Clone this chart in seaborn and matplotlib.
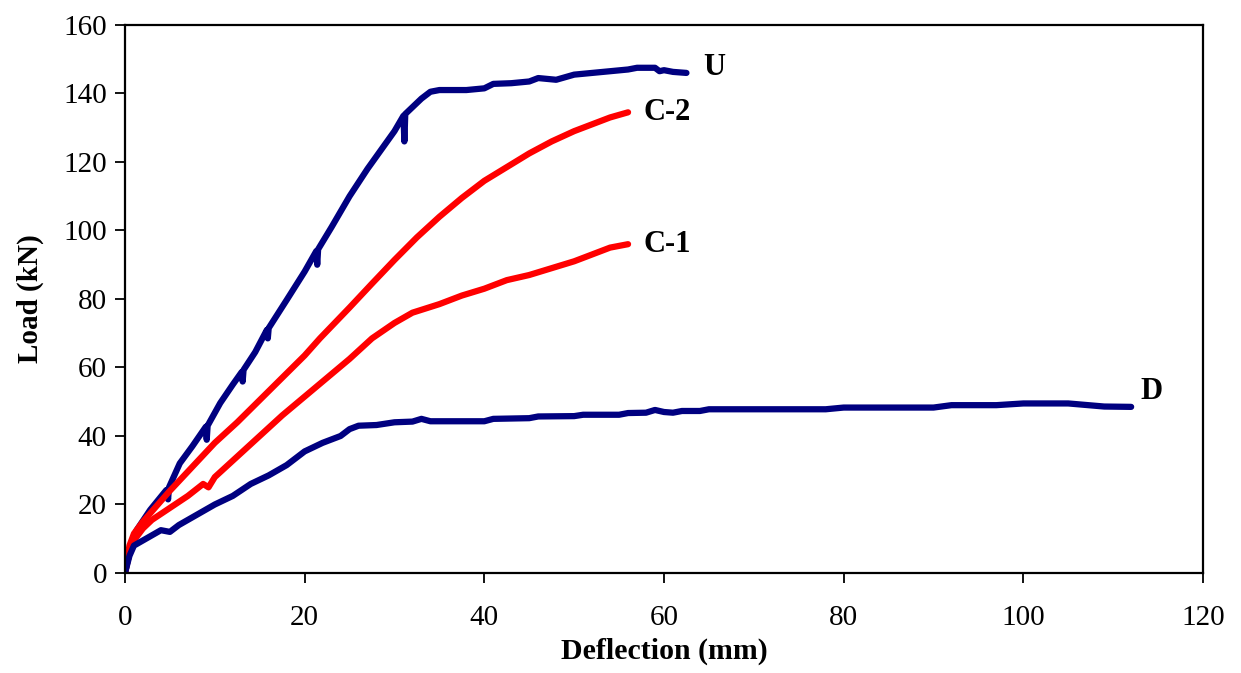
import matplotlib
matplotlib.use("Agg")
import matplotlib.pyplot as plt
import seaborn as sns
import pandas as pd

# ---- data ----
u_defl = [0, 0.5, 1.3, 2.8, 4.6, 4.8, 4.9, 6.1, 7.5, 9.0, 9.1, 9.2, 10.6, 12.0, 13.0, 13.1, 13.2, 14.5, 15.8, 15.9, 16.0,
          18.0, 20.0, 21.3, 21.4, 21.5, 23.0, 25.0, 27.0, 28.5, 30.0, 31.0, 31.1, 31.2, 32.0, 33.0, 34.0, 35.0,
          38.0, 40.0, 41.0, 43.0, 45.0, 46.0, 48.0, 50.0, 52.0, 54.0, 56.0, 57.0, 59.0, 59.5, 60.0, 61.0, 62.5]
u_load = [0, 5.8, 12.5, 18.4, 24.2, 21.5, 25.0, 32.0, 37.0, 42.7, 38.9, 43.0, 49.6, 55.0, 58.7, 55.9, 59.3, 64.5, 71.0, 68.5, 71.5,
          79.7, 88.0, 94.0, 90.0, 94.5, 101.0, 110.0, 118.0, 123.5, 129.0, 133.5, 126.0, 134.0, 136.0, 138.5, 140.5, 141.0,
          141.0, 141.5, 142.8, 143.0, 143.5, 144.5, 144.0, 145.5, 146.0, 146.5, 147.0, 147.5, 147.5, 146.5, 146.8, 146.3, 146.0]

c2_defl = [0, 0.5, 1.0, 2.0, 3.0, 5.0, 7.5, 10.0, 12.5, 15.0, 17.5, 20.0, 21.7, 25.0, 27.5, 30.0, 32.5, 35.0,
           37.5, 40.0, 42.5, 45.0, 47.5, 50.0, 52.5, 54.0, 56.0]
c2_load = [0, 8.0, 11.5, 15.0, 18.0, 24.0, 31.0, 38.0, 44.0, 50.5, 57.0, 63.5, 68.5, 77.5, 84.5, 91.4, 98.0, 104.0,
           109.5, 114.5, 118.5, 122.5, 126.0, 129.0, 131.5, 133.0, 134.5]

c1_defl = [0, 0.5, 1.0, 2.0, 3.0, 5.0, 7.0, 8.7, 9.3, 10.0, 12.5, 15.0, 17.5, 20.0, 22.5, 25.0, 27.5, 30.0,
           32.0, 35.0, 37.5, 40.0, 42.5, 45.0, 47.5, 50.0, 52.5, 54.0, 56.0]
c1_load = [0, 6.0, 9.5, 13.0, 15.5, 19.0, 22.5, 26.0, 25.0, 28.0, 34.0, 40.0, 46.0, 51.5, 57.0, 62.5, 68.5, 73.0,
           76.0, 78.5, 81.0, 83.0, 85.5, 87.0, 89.0, 91.0, 93.5, 95.0, 96.0]

d_defl = [0, 0.5, 1.0, 2.0, 3.0, 4.0, 5.0, 6.0, 8.0, 10.0, 12.0, 14.0, 16.0, 18.0, 20.0, 22.0, 24.0, 25.0, 26.0,
          28.0, 30.0, 32.0, 33.0, 34.0, 40.0, 41.0, 45.0, 46.0, 50.0, 51.0, 55.0, 56.0, 58.0, 59.0, 60.0, 61.0, 62.0,
          64.0, 65.0, 78.0, 80.0, 90.0, 92.0, 97.0, 100.0, 105.0, 109.0, 112.0]
d_load = [0, 5.0, 8.0, 9.5, 11.0, 12.5, 12.0, 14.0, 17.0, 20.0, 22.5, 26.0, 28.5, 31.5, 35.5, 38.0, 40.0, 42.0, 43.0,
          43.2, 44.0, 44.2, 45.0, 44.3, 44.3, 45.0, 45.2, 45.7, 45.8, 46.2, 46.2, 46.7, 46.8, 47.6, 47.0, 46.8, 47.3,
          47.3, 47.8, 47.8, 48.3, 48.3, 49.0, 49.0, 49.5, 49.5, 48.6, 48.5]

series_names = ["U", "C-2", "C-1", "D"]
series_colors = ["#000080", "#FF0000", "#FF0000", "#000080"]
label_pos = [(64.4, 147.5), (57.7, 134.3), (57.7, 96.0), (113.0, 53.0)]

x_ticks = [0, 20, 40, 60, 80, 100, 120]
y_ticks = [0, 20, 40, 60, 80, 100, 120, 140, 160]

frames = []
for name, xs, ys in zip(series_names, [u_defl, c2_defl, c1_defl, d_defl], [u_load, c2_load, c1_load, d_load]):
    frames.append(pd.DataFrame({"Deflection": xs, "Load": ys, "Specimen": name}))
df = pd.concat(frames, ignore_index=True)

sns.set_style("white")
plt.rcParams["font.family"] = ["Liberation Serif", "DejaVu Serif"]

fig = plt.figure(figsize=(12.41, 6.73), dpi=100)
ax = fig.add_axes([0.1007, 0.1486, 0.8687, 0.8143])

sns.lineplot(data=df, x="Deflection", y="Load", hue="Specimen", units="Specimen", estimator=None,
             sort=False, palette=dict(zip(series_names, series_colors)), linewidth=4.5,
             legend=False, ax=ax, solid_capstyle="round", solid_joinstyle="round")

for name, (lx, ly) in zip(series_names, label_pos):
    ax.text(lx, ly, name, fontsize=22, fontweight="bold", va="center", ha="left", color="black")

ax.set_xlim(0, 120)
ax.set_ylim(0, 160)
ax.set_xticks(x_ticks)
ax.set_yticks(y_ticks)
ax.tick_params(axis="both", direction="out", length=7, width=1.3, labelsize=21, colors="black",
               bottom=True, left=True, top=False, right=False)
ax.tick_params(axis="x", pad=16)
ax.tick_params(axis="y", pad=6)
for sp in ax.spines.values():
    sp.set_visible(True)
    sp.set_color("black")
    sp.set_linewidth(1.6)

ax.set_xlabel("Deflection (mm)", fontsize=21.5, fontweight="bold", labelpad=5, color="black")
ax.set_ylabel("Load (kN)", fontsize=21, fontweight="bold", labelpad=14, color="black")

fig.savefig("out.png", dpi=100)
